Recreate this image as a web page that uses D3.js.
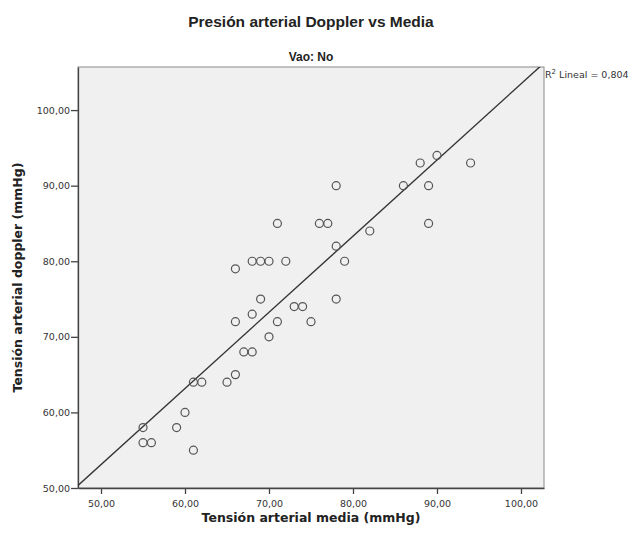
<!DOCTYPE html>
<html>
<head>
<meta charset="utf-8">
<script src="https://cdn.jsdelivr.net/npm/d3@7"></script>
<style>
  body { margin: 0; background: #fff; }
  svg { display: block; }
</style>
</head>
<body>
<div id="chart"></div>
<script>
// Data: tension media (x) vs doppler (y)
const media   = [55, 55, 56, 59, 60, 61, 61, 62, 65, 66, 66, 66, 67, 68, 68, 68, 69, 70, 69, 70,
                 71, 71, 72, 73, 74, 75, 76, 77, 78, 78, 78, 79, 82, 86, 88, 89, 89, 90, 94];
const doppler = [58, 56, 56, 58, 60, 55, 64, 64, 64, 65, 72, 79, 68, 68, 73, 80, 80, 80, 75, 70,
                 72, 85, 80, 74, 74, 72, 85, 85, 75, 82, 90, 80, 84, 90, 93, 90, 85, 94, 93];
const xTicks = [50, 60, 70, 80, 90, 100];
const yTicks = [50, 60, 70, 80, 90, 100];
const r2Label = "0,804";

const width = 632, height = 533;
const plot = { left: 78, top: 67, right: 544, bottom: 488 };

const svg = d3.select("#chart").append("svg")
  .attr("width", width)
  .attr("height", height);

// scales
const xScale = d3.scaleLinear()
  .domain([47.26, 102.74])
  .range([plot.left, plot.right]);
const yScale = d3.scaleLinear()
  .domain([50, 105.7])
  .range([plot.bottom, plot.top]);

const fmt = d => d3.format(".2f")(d).replace(".", ",");

// background
svg.append("rect")
  .attr("x", plot.left).attr("y", plot.top)
  .attr("width", plot.right - plot.left)
  .attr("height", plot.bottom - plot.top)
  .attr("fill", "#f0f0f0")
  .attr("stroke", "#8a8a8a")
  .attr("stroke-width", 1);

svg.append("clipPath").attr("id", "clip")
  .append("rect")
  .attr("x", plot.left).attr("y", plot.top)
  .attr("width", plot.right - plot.left)
  .attr("height", plot.bottom - plot.top);

// axes
const xAxis = svg.append("g")
  .attr("transform", "translate(0," + plot.bottom + ")")
  .call(d3.axisBottom(xScale).tickValues(xTicks).tickFormat(fmt).tickSize(6).tickSizeOuter(0));
const yAxis = svg.append("g")
  .attr("transform", "translate(" + plot.left + ",0)")
  .call(d3.axisLeft(yScale).tickValues(yTicks).tickFormat(fmt).tickSize(7).tickSizeOuter(0));

[xAxis, yAxis].forEach(function(ax) {
  ax.select(".domain").attr("stroke", "#444").attr("stroke-width", 1.3);
  ax.selectAll(".tick line").attr("stroke", "#444").attr("stroke-width", 1.3);
  ax.selectAll(".tick text")
    .attr("fill", "#333")
    .style("font-family", "'DejaVu Sans', sans-serif")
    .style("font-size", "9.5px");
});
xAxis.selectAll(".tick text").attr("dy", "1.1em");
yAxis.selectAll(".tick text").attr("x", -8);

// least squares fit line
const n = media.length;
const mx = d3.mean(media), my = d3.mean(doppler);
let sxy = 0, sxx = 0;
for (let i = 0; i < n; i++) {
  sxy += (media[i] - mx) * (doppler[i] - my);
  sxx += (media[i] - mx) * (media[i] - mx);
}
const slope = sxy / sxx;
const intercept = my - slope * mx;
const xr = xScale.domain();

svg.append("line")
  .attr("clip-path", "url(#clip)")
  .attr("x1", xScale(xr[0])).attr("y1", yScale(intercept + slope * xr[0]))
  .attr("x2", xScale(xr[1])).attr("y2", yScale(intercept + slope * xr[1]))
  .attr("stroke", "#333")
  .attr("stroke-width", 1.4);

// points
svg.selectAll("circle.pt")
  .data(d3.range(n))
  .enter()
  .append("circle")
    .attr("class", "pt")
    .attr("cx", function(i) { return xScale(media[i]); })
    .attr("cy", function(i) { return yScale(doppler[i]); })
    .attr("r", 4)
    .attr("fill", "none")
    .attr("stroke", "#555")
    .attr("stroke-width", 1.2);

// titles
svg.append("text")
  .attr("x", 311).attr("y", 27)
  .attr("text-anchor", "middle")
  .style("font-family", "'Liberation Sans', Arial, sans-serif")
  .style("font-weight", "bold")
  .style("font-size", "15.5px")
  .attr("fill", "#222")
  .text("Presión arterial Doppler vs Media");

svg.append("text")
  .attr("x", 311).attr("y", 61)
  .attr("text-anchor", "middle")
  .style("font-family", "'Liberation Sans', Arial, sans-serif")
  .style("font-weight", "bold")
  .style("font-size", "12px")
  .attr("fill", "#222")
  .text("Vao: No");

svg.append("text")
  .attr("x", (plot.left + plot.right) / 2).attr("y", 522)
  .attr("text-anchor", "middle")
  .style("font-family", "'DejaVu Sans', sans-serif")
  .style("font-weight", "bold")
  .style("font-size", "12.5px")
  .attr("fill", "#222")
  .text("Tensión arterial media (mmHg)");

svg.append("text")
  .attr("transform", "translate(22," + (plot.top + plot.bottom) / 2 + ") rotate(-90)")
  .attr("text-anchor", "middle")
  .style("font-family", "'DejaVu Sans', sans-serif")
  .style("font-weight", "bold")
  .style("font-size", "12.5px")
  .attr("fill", "#222")
  .text("Tensión arterial doppler (mmHg)");

// R2 label
const r2 = svg.append("text")
  .attr("x", plot.right + 1).attr("y", 78)
  .style("font-family", "'DejaVu Sans', sans-serif")
  .style("font-size", "9.5px")
  .attr("fill", "#333");
r2.append("tspan").text("R");
r2.append("tspan").attr("dy", -4).style("font-size", "7px").text("2");
r2.append("tspan").attr("dy", 4).text(" Lineal = " + r2Label);
</script>
</body>
</html>
